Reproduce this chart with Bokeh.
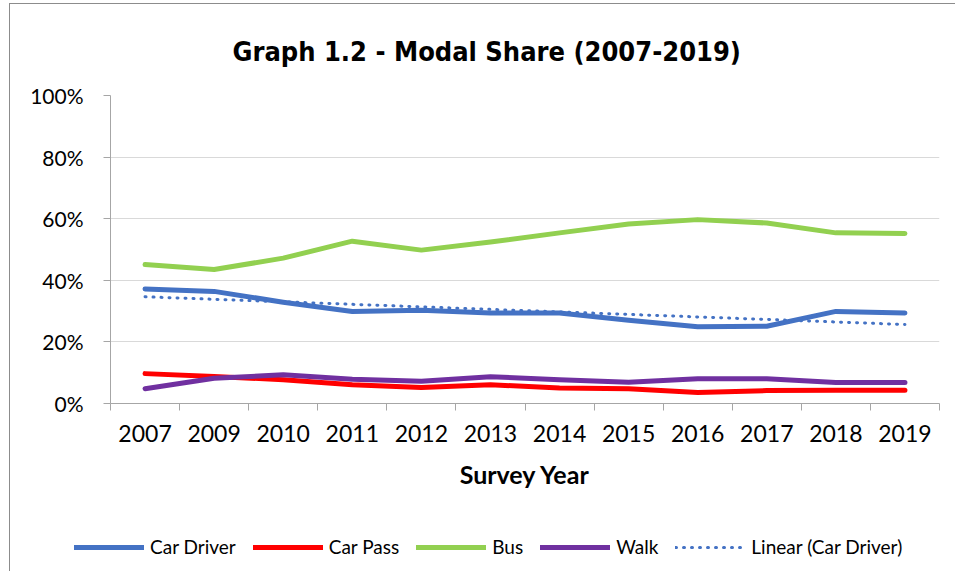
import numpy as np
from bokeh.plotting import figure
from bokeh.layouts import column, row
from bokeh.models import (FixedTicker, PrintfTickFormatter, Legend, LegendItem,
                          Range1d, Spacer)
from bokeh.embed import file_html
from bokeh.resources import INLINE

# ---- data ----
years = ["2007", "2009", "2010", "2011", "2012", "2013",
         "2014", "2015", "2016", "2017", "2018", "2019"]
car_driver = [37.2, 36.4, 32.9, 29.9, 30.3, 29.4, 29.4, 27.0, 24.9, 25.1, 29.9, 29.4]
car_pass = [9.7, 8.8, 7.7, 6.1, 5.2, 6.1, 5.0, 4.8, 3.6, 4.2, 4.3, 4.3]
bus = [45.1, 43.5, 47.2, 52.7, 49.8, 52.4, 55.4, 58.3, 59.7, 58.6, 55.4, 55.2]
walk = [4.8, 8.2, 9.3, 7.9, 7.2, 8.7, 7.7, 6.9, 8.0, 8.0, 6.8, 6.8]
y_ticks = [0, 20, 40, 60, 80, 100]

series_names = ["Car Driver", "Car Pass", "Bus", "Walk", "Linear (Car Driver)"]
series_colors = ["#4472C4", "#FF0000", "#92D050", "#7030A0", "#4472C4"]

title_text = "Graph 1.2 - Modal Share (2007-2019)"
x_title = "Survey Year"

# category centres on a synthetic 0..N axis
n = len(years)
idx = np.arange(n)
xc = idx + 0.5
coef = np.polyfit(idx, car_driver, 1)
trend = np.polyval(coef, idx)
series = [car_driver, car_pass, bus, walk, list(trend)]

W = 945
p = figure(width=W, height=497, x_range=Range1d(0, n), y_range=Range1d(0, 100),
           output_backend="svg", toolbar_location=None,
           min_border_left=100, min_border_right=16, min_border_top=91,
           min_border_bottom=98, background_fill_color="white",
           border_fill_color="white")
p.outline_line_color = None

p.title.text = title_text
p.title.align = "left"
p.title.offset = 122
p.title.text_font = "DejaVu Sans Condensed"
p.title.text_font_style = "bold"
p.title.text_font_size = "27px"
p.title.text_color = "black"
p.title.standoff = 58

font = "Lato"
axis_col = "#a6a6a6"

# x axis: labels at centres, ticks at boundaries
xa = p.xaxis[0]
xa.ticker = FixedTicker(ticks=list(xc), minor_ticks=list(range(n + 1)))
xa.major_label_overrides = {float(v): y for v, y in zip(xc, years)}
xa.major_tick_in = 0
xa.major_tick_out = 0
xa.minor_tick_in = 0
xa.minor_tick_out = 7
xa.minor_tick_line_color = axis_col
xa.axis_line_color = axis_col
xa.major_label_text_font = font
xa.major_label_text_font_size = "23px"
xa.major_label_text_color = "black"
xa.major_label_standoff = 14
xa.axis_label = x_title
xa.axis_label_text_font = font
xa.axis_label_text_font_style = "bold"
xa.axis_label_text_font_size = "25px"
xa.axis_label_text_color = "black"
xa.axis_label_standoff = 14

ya = p.yaxis[0]
ya.ticker = FixedTicker(ticks=y_ticks, minor_ticks=[])
ya.formatter = PrintfTickFormatter(format="%d%%")
ya.major_tick_in = 0
ya.major_tick_out = 7
ya.major_tick_line_color = axis_col
ya.axis_line_color = axis_col
ya.major_label_text_font = font
ya.major_label_text_font_size = "21px"
ya.major_label_text_color = "black"
ya.major_label_standoff = 20

p.xgrid.grid_line_color = None
p.ygrid.ticker = FixedTicker(ticks=y_ticks, minor_ticks=[])
p.ygrid.grid_line_color = "#d9d9d9"
p.ygrid.grid_line_width = 1

lw = 5
def style(i):
    if i < 4:
        return dict(line_color=series_colors[i], line_width=lw, line_cap="round",
                    line_join="round")
    return dict(line_color=series_colors[i], line_width=3, line_dash="1 7",
                line_cap="round")

for i, vals in enumerate(series):
    p.line(xc, vals, **style(i))

# ---- legend strip (separate figure so nothing is clipped) ----
lg = figure(width=W, height=70, x_range=Range1d(0, 1), y_range=Range1d(0, 1),
            output_backend="svg", toolbar_location=None, min_border=0,
            x_axis_location=None, y_axis_location=None,
            background_fill_color="white", border_fill_color="white")
lg.outline_line_color = None
lg.grid.visible = False

can_unalign = "frame_align" in lg.properties()
if can_unalign:
    lg.frame_align = False
    p.frame_align = False
    leg_x, leg_spacing = 64, 17
else:
    leg_x, leg_spacing = 0, 15

items = []
for i, name in enumerate(series_names):
    # single-point stand-ins: they draw nothing, only carry the legend style
    r = lg.line(xc[:1], series[i][:1], **style(i))
    items.append(LegendItem(label=name, renderers=[r]))
legend = Legend(items=items, orientation="horizontal", location=(leg_x, 13))
legend.glyph_width = 70
legend.glyph_height = 20
legend.label_standoff = 6
legend.spacing = leg_spacing
legend.padding = 0
legend.margin = 0
legend.border_line_color = None
legend.background_fill_alpha = 0
legend.label_text_font = font
legend.label_text_font_size = "19px"
legend.label_text_color = "black"
lg.add_layout(legend, "center")

chart = column(p, lg, spacing=0,
               styles={"border-left": "1px solid #8c8c8c", "border-top": "1px solid #8c8c8c"})
page = column(Spacer(height=3), row(Spacer(width=9), chart, spacing=0), spacing=0)

open("out.html", "w").write(file_html(page, INLINE))
